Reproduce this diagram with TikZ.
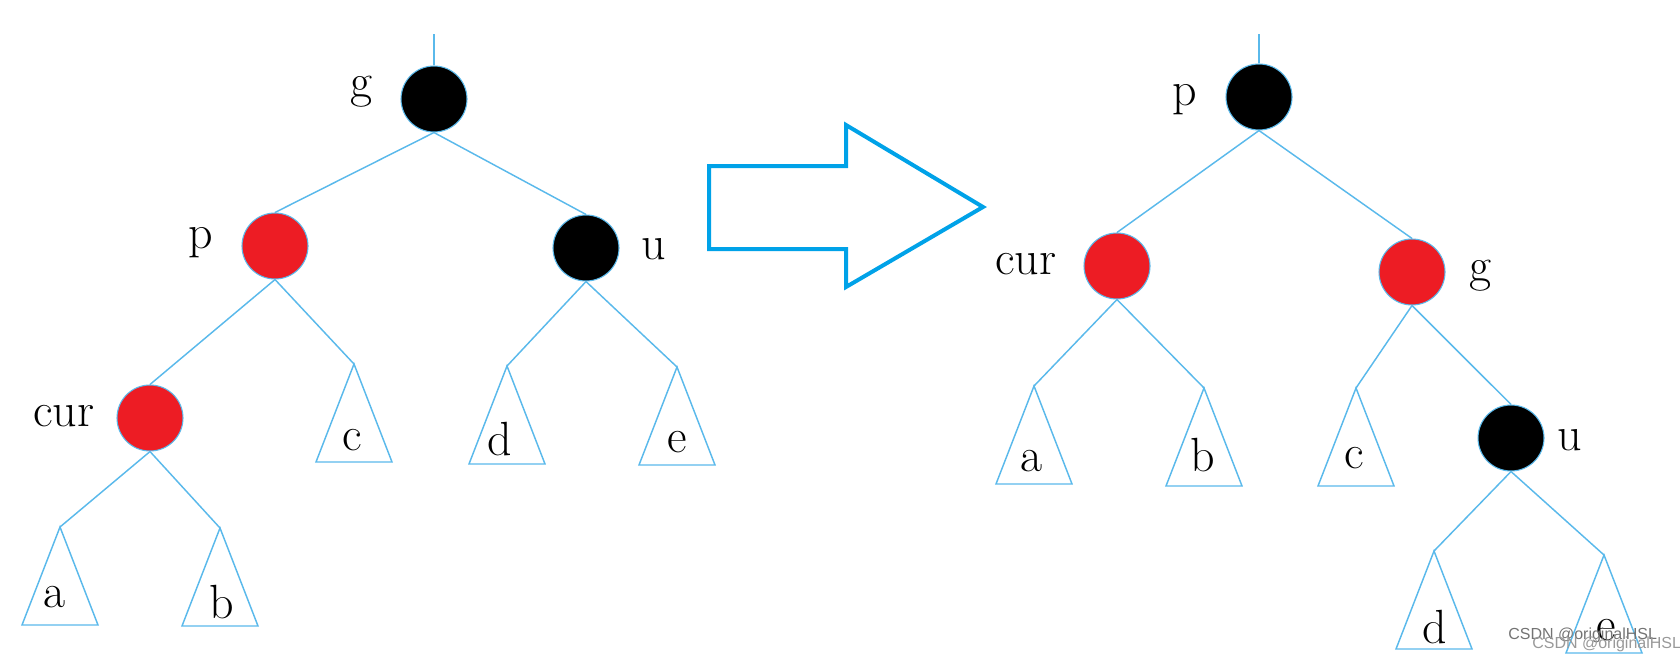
\documentclass[tikz,border=0pt]{standalone}
\usepackage{fontspec}
\newfontfamily\wmfont{Liberation Sans}
\definecolor{edgeblue}{RGB}{90,185,235}
\definecolor{arrowblue}{RGB}{0,162,232}
\definecolor{rbred}{RGB}{237,28,36}
\begin{document}
\begin{tikzpicture}[x=0.75pt,y=-0.75pt,
  edge/.style={draw=edgeblue,line width=1.1pt},
  rb/.style={circle,draw=edgeblue,line width=0.8pt,minimum size=49.5pt,inner sep=0pt},
  rednode/.style={rb,fill=rbred},
  blacknode/.style={rb,fill=black},
  lbl/.style={anchor=base,font=\fontsize{36}{40}\selectfont,inner sep=0pt},
  subtree/.style={edge,line join=miter},
  wm/.style={anchor=base west,inner sep=0pt,font=\wmfont\fontsize{12}{14}\selectfont}]
\useasboundingbox (0,0) rectangle (1680,653);

% ---------- left tree ----------
\node[blacknode] (Lg) at (434,99) {};
\coordinate (Ltop) at (434,34);
\node[rednode] (Lp) at (275,246) {};
\node[blacknode] (Lu) at (586,248) {};
\node[rednode] (Lcur) at (150,418) {};
\coordinate (Lc) at (354,364);
\coordinate (Ld) at (507,366);
\coordinate (Le) at (677,367);
\coordinate (La) at (60,527);
\coordinate (Lb) at (220,528);

\draw[edge] (Ltop) -- (Lg.north);
\draw[edge] (Lg.south) -- (Lp.north);
\draw[edge] (Lg.south) -- (Lu.north);
\draw[edge] (Lp.south) -- (Lcur.north);
\draw[edge] (Lp.south) -- (Lc);
\draw[edge] (Lu.south) -- (Ld);
\draw[edge] (Lu.south) -- (Le);
\draw[edge] (Lcur.south) -- (La);
\draw[edge] (Lcur.south) -- (Lb);
\foreach \t in {Lc,Ld,Le,La,Lb}
  \draw[subtree] (\t) -- ++(-38,98) -- ++(76,0) -- cycle;

\node[lbl] (tLg) at (362,97) {g};
\node[lbl] (tLp) at (201,248) {p};
\node[lbl] (tLu) at (654,259) {u};
\node[lbl] (tLcur) at (64,426) {cur};
\node[lbl] (tLc) at (352,450) {c};
\node[lbl] (tLd) at (500,455) {d};
\node[lbl] (tLe) at (677,452) {e};
\node[lbl] (tLa) at (55,607) {a};
\node[lbl] (tLb) at (222,618) {b};

% ---------- arrow ----------
\draw[arrowblue,line width=3pt,line join=miter]
  (709,166) -- (846,166) -- (846,125) -- (983,207) -- (846,287) -- (846,249) -- (709,249) -- cycle;

% ---------- right tree ----------
\node[blacknode] (Rp) at (1259,97) {};
\coordinate (Rtop) at (1259,34);
\node[rednode] (Rcur) at (1117,266) {};
\node[rednode] (Rg) at (1412,272) {};
\node[blacknode] (Ru) at (1511,438) {};
\coordinate (Ra) at (1034,386);
\coordinate (Rb) at (1204,388);
\coordinate (Rc) at (1356,388);
\coordinate (Rd) at (1434,551);
\coordinate (Re) at (1604,555);

\draw[edge] (Rtop) -- (Rp.north);
\draw[edge] (Rp.south) -- (Rcur.north);
\draw[edge] (Rp.south) -- (Rg.north);
\draw[edge] (Rcur.south) -- (Ra);
\draw[edge] (Rcur.south) -- (Rb);
\draw[edge] (Rg.south) -- (Rc);
\draw[edge] (Rg.south) -- (Ru.north);
\draw[edge] (Ru.south) -- (Rd);
\draw[edge] (Ru.south) -- (Re);
\foreach \t in {Ra,Rb,Rc,Rd,Re}
  \draw[subtree] (\t) -- ++(-38,98) -- ++(76,0) -- cycle;

\node[lbl] (tRp) at (1185,105) {p};
\node[lbl] (tRcur) at (1026,274) {cur};
\node[lbl] (tRg) at (1480,281) {g};
\node[lbl] (tRu) at (1570,450) {u};
\node[lbl] (tRa) at (1032,471) {a};
\node[lbl] (tRb) at (1203,471) {b};
\node[lbl] (tRc) at (1354,468) {c};
\node[lbl] (tRd) at (1435,643) {d};
\node[lbl] (tRe) at (1606,640) {e};

% ---------- watermark ----------
\node[wm,text=black!55] (wm1) at (1508,639) {CSDN @originalHSL};
\node[wm,text=black!40] (wm2) at (1532,648) {CSDN @originalHSL};
\end{tikzpicture}
\end{document}
